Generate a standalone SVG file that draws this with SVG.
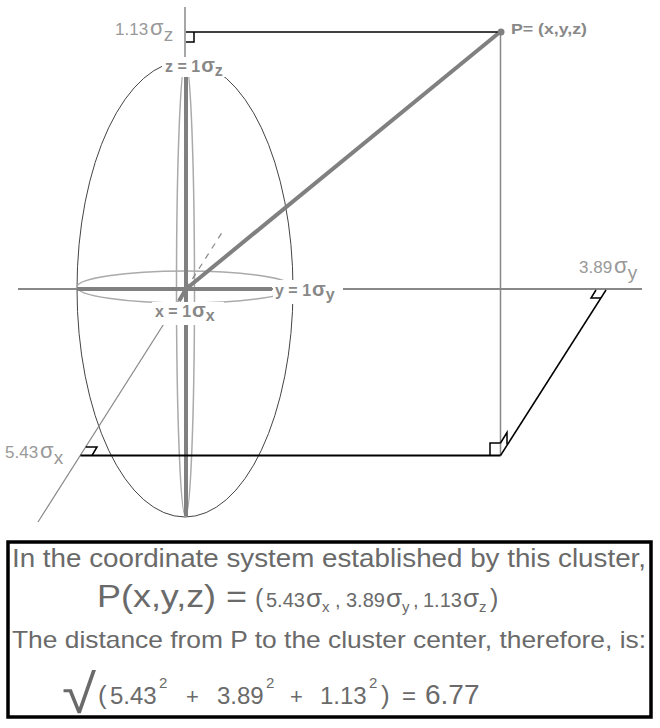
<svg xmlns="http://www.w3.org/2000/svg" width="660" height="728" viewBox="0 0 660 728">
<style>
text{font-family:"Liberation Sans",Arial,sans-serif}
.lbl{fill:#999;font-size:17px}
.blbl{fill:#888;font-size:16px;font-weight:bold}
.box{fill:#6a6a6a}
.thin{stroke:#888;stroke-width:1.5;fill:none}
.thick{stroke:#808080;stroke-width:4;fill:none}
.blk{stroke:#000;stroke-width:1.5;fill:none}
</style>
<rect width="660" height="728" fill="#fff"/>
<g id="ellipsoid">
<ellipse cx="185" cy="289" rx="108" ry="228" fill="none" stroke="#444" stroke-width="1"/>
<ellipse cx="185" cy="287" rx="108" ry="16" fill="none" stroke="#aaa" stroke-width="1.5"/>
<ellipse cx="185.5" cy="289" rx="9" ry="227" fill="none" stroke="#aaa" stroke-width="1.5"/>
</g>
<g id="connectors">
<line class="thin" x1="185" y1="7" x2="185" y2="60"/>
<line class="thin" x1="18" y1="289" x2="642" y2="289" style="stroke-width:2"/>
<line class="thin" x1="38" y1="522" x2="186" y2="289" style="stroke-width:1.2"/>
<line class="thin" x1="186" y1="289" x2="223" y2="231" style="stroke-width:1.2;stroke-dasharray:6,6"/>
<line class="thick" x1="186" y1="70" x2="186" y2="516"/>
<line class="thick" x1="77" y1="289" x2="272" y2="289"/>
<line class="thick" x1="186" y1="289" x2="179" y2="301"/>
<line class="thick" x1="186" y1="289" x2="500" y2="32"/>
<line class="blk" x1="186" y1="32" x2="500" y2="32"/>
<polyline class="blk" points="186,42 194,42 194,32"/>
<line class="thin" x1="500.5" y1="32" x2="500.5" y2="455.5"/>
<line class="blk" x1="80.5" y1="455.5" x2="500.5" y2="455.5" style="stroke-width:2"/>
<polyline class="blk" points="500.5,443 490,443 490,455.5"/>
<polyline class="blk" points="500.5,443 507,432.5 507,444.5"/>
<line class="blk" x1="500.5" y1="455.5" x2="606" y2="290"/>
<polyline class="blk" points="596,290 591,298 601,298"/>
<polyline class="blk" points="85.7,447 97,447 92,455.5"/>
</g>
<g id="P">
<circle cx="501" cy="32" r="3.5" fill="#808080"/>
<text class="blbl" x="511" y="34" style="font-size:15px" textLength="76" lengthAdjust="spacingAndGlyphs">P= (x,y,z)</text>
</g>
<g id="z-label">
<rect x="162" y="57" width="74" height="20" fill="#fff"/>
<text class="blbl" x="165" y="72">z = 1<tspan font-size="20" dx="1">σ</tspan><tspan dy="4">z</tspan></text>
</g>
<g id="y-label">
<rect x="273" y="280" width="70" height="24" fill="#fff"/>
<text class="blbl" x="275" y="296">y = 1<tspan font-size="20" dx="1">σ</tspan><tspan dy="4">y</tspan></text>
</g>
<g id="x-label">
<rect x="152" y="302" width="72" height="23" fill="#fff"/>
<text class="blbl" x="155" y="317">x = 1<tspan font-size="20" dx="1">σ</tspan><tspan dy="4">x</tspan></text>
</g>
<g id="z-value">
<text class="lbl" x="115" y="35">1.13<tspan font-size="22" dx="2">σ</tspan><tspan font-size="19" dy="6">z</tspan></text>
</g>
<g id="y-value">
<text class="lbl" x="579" y="273">3.89<tspan font-size="22" dx="2">σ</tspan><tspan font-size="19" dy="6">y</tspan></text>
</g>
<g id="x-value">
<text class="lbl" x="5" y="458">5.43<tspan font-size="22" dx="2">σ</tspan><tspan font-size="19" dy="6">x</tspan></text>
</g>
<g id="textbox">
<rect x="8" y="542" width="643" height="175" fill="#fff" stroke="#000" stroke-width="3.5"/>
<text class="box" x="12" y="567" font-size="26" textLength="634" lengthAdjust="spacingAndGlyphs">In the coordinate system established by this cluster,</text>
<text class="box" x="97" y="607" font-size="32" textLength="150" lengthAdjust="spacingAndGlyphs">P(x,y,z) =</text>
<text class="box" x="255" y="607" font-size="25">(</text>
<text class="box" x="266" y="607" font-size="20">5.43</text>
<text class="box" x="306" y="607" font-size="26">σ</text>
<text class="box" x="322" y="612" font-size="15">x</text>
<text class="box" x="335" y="607" font-size="20">,</text>
<text class="box" x="346" y="607" font-size="20">3.89</text>
<text class="box" x="386" y="607" font-size="26">σ</text>
<text class="box" x="402" y="612" font-size="15">y</text>
<text class="box" x="413" y="607" font-size="20">,</text>
<text class="box" x="423" y="607" font-size="20">1.13</text>
<text class="box" x="463" y="607" font-size="26">σ</text>
<text class="box" x="479" y="612" font-size="15">z</text>
<text class="box" x="490" y="607" font-size="25">)</text>
<text class="box" x="12" y="648" font-size="24" textLength="634" lengthAdjust="spacingAndGlyphs">The distance from P to the cluster center, therefore, is:</text>
<text class="box" x="62" y="713" font-size="54" textLength="34" lengthAdjust="spacingAndGlyphs">√</text>
<text class="box" x="98" y="704" font-size="26">(</text>
<text class="box" x="110" y="704" font-size="24">5.43</text>
<text class="box" x="159" y="688" font-size="15">2</text>
<text class="box" x="186" y="704" font-size="22">+</text>
<text class="box" x="217" y="704" font-size="24">3.89</text>
<text class="box" x="266" y="688" font-size="15">2</text>
<text class="box" x="290" y="704" font-size="22">+</text>
<text class="box" x="320" y="704" font-size="24">1.13</text>
<text class="box" x="369" y="688" font-size="15">2</text>
<text class="box" x="381" y="704" font-size="26">)</text>
<text class="box" x="402" y="704" font-size="24">=</text>
<text class="box" x="425" y="704" font-size="28">6.77</text>
</g>
</svg>
